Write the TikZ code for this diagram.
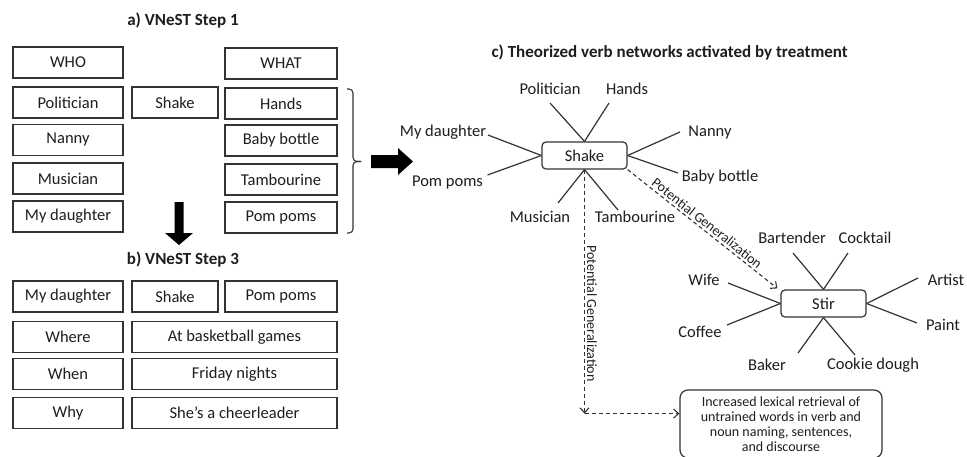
\documentclass[tikz,border=0pt]{standalone}
\usepackage{fontspec}
\setmainfont{Carlito}
\usetikzlibrary{calc,arrows.meta}
\definecolor{bd}{HTML}{333333}
\definecolor{txt}{HTML}{1E1E1E}
\begin{document}
\begin{tikzpicture}[x=1pt,y=-1pt,
  every node/.style={font=\fontsize{16.5}{19}\selectfont, text=txt},
  cell/.style={draw=bd, line width=1.2pt, minimum height=31pt, inner sep=0pt},
  hub/.style={draw=bd, line width=1.2pt, rounded corners=4pt, minimum width=85pt, minimum height=27pt, inner sep=0pt},
  lbl/.style={inner sep=1pt},
  spoke/.style={draw=bd, line width=1.2pt},
  gen/.style={draw=bd, line width=1.1pt, dash pattern=on 4pt off 3pt, -{Straight Barb[length=5pt,width=9pt]}},
  glabel/.style={font=\fontsize{14}{16}\selectfont, inner sep=2pt},
  ttl/.style={font=\bfseries\fontsize{17}{19}\selectfont}
]
\fill[white] (0,0) rectangle (967,456);
\useasboundingbox (0,0) rectangle (967,456);

% ---- a) Step 1
\node[ttl] (ta) at (183,21) {a) VNeST Step 1};
\node[cell, minimum width=110pt] (who) at (68,62.5) {WHO};
\node[cell, minimum width=112pt] (what) at (281,63.5) {WHAT};
\node[cell, minimum width=110pt] (a1) at (68,102.5) {Politician};
\node[cell, minimum width=110pt] (a2) at (68,140) {Nanny};
\node[cell, minimum width=110pt] (a3) at (68,178.5) {Musician};
\node[cell, minimum width=110pt] (a4) at (68,216.5) {My daughter};
\node[cell, minimum width=86pt] (av) at (175,102.5) {Shake};
\node[cell, minimum width=112pt] (b1) at (281,103.5) {Hands};
\node[cell, minimum width=112pt] (b2) at (281,140.5) {Baby bottle};
\node[cell, minimum width=112pt] (b3) at (281,179.5) {Tambourine};
\node[cell, minimum width=112pt] (b4) at (281,217.5) {Pom poms};

% brace
\draw[bd, line width=1.1pt, rounded corners=4pt] (347,89) -- (353,89) -- (353,161.5) -- (361,161.5);
\draw[bd, line width=1.1pt, rounded corners=4pt] (347,233) -- (353,233) -- (353,161.5) -- (361,161.5);

% block arrows
\fill[black] (371,155) -- (398,155) -- (398,148) -- (413,161.5) -- (398,175) -- (398,168) -- (371,168) -- cycle;
\fill[black] (174.5,202) -- (183.5,202) -- (183.5,233) -- (193,233) -- (179,245) -- (165,233) -- (174.5,233) -- cycle;

% ---- b) Step 3
\node[ttl] (tb) at (183,260) {b) VNeST Step 3};
\node[cell, minimum width=110pt] (c1) at (68,296.5) {My daughter};
\node[cell, minimum width=86pt] (c2) at (175,296.5) {Shake};
\node[cell, minimum width=112pt] (c3) at (281,296.5) {Pom poms};
\node[cell, minimum width=110pt] (d1) at (68,337) {Where};
\node[cell, minimum width=205pt] (d2) at (234.5,337) {At basketball games};
\node[cell, minimum width=110pt] (e1) at (68,374) {When};
\node[cell, minimum width=205pt] (e2) at (234.5,374) {Friday nights};
\node[cell, minimum width=110pt] (f1) at (68,413) {Why};
\node[cell, minimum width=205pt] (f2) at (234.5,413) {She’s a cheerleader};

% ---- c) networks
\node[ttl, anchor=west] (tc) at (488,53) {c) Theorized verb networks activated by treatment};

\node[hub] (shake) at (584.5,155.5) {Shake};
\node[lbl] (pol) at (550,89) {Politician};
\node[lbl] (hands) at (627,89) {Hands};
\node[lbl] (myd) at (443,132) {My daughter};
\node[lbl] (pom) at (447.5,183) {Pom poms};
\node[lbl] (nanny) at (710,133) {Nanny};
\node[lbl] (baby) at (720,177) {Baby bottle};
\node[lbl] (mus) at (540,217) {Musician};
\node[lbl] (tamb) at (635,217) {Tambourine};

\draw[spoke] ($(pol)+(0,14)$) -- (shake.north);
\draw[spoke] ($(hands)+(-18,14)$) -- (shake.north);
\draw[spoke] ($(myd)+(45,3)$) -- (shake.west);
\draw[spoke] ($(pom)+(40,-8)$) -- (shake.west);
\draw[spoke] ($(nanny)+(-30,-1)$) -- (shake.east);
\draw[spoke] ($(baby)+(-42,-4)$) -- (shake.east);
\draw[spoke] ($(mus)+(18,-14)$) -- (shake.south);
\draw[spoke] ($(tamb)+(-17,-7)$) -- (shake.south);

\node[hub] (stir) at (823.5,303.5) {Stir};
\node[lbl] (bart) at (792,238) {Bartender};
\node[lbl] (cock) at (865,238) {Cocktail};
\node[lbl] (wife) at (704,280) {Wife};
\node[lbl] (coffee) at (700,332) {Coffee};
\node[lbl] (artist) at (946,280) {Artist};
\node[lbl] (paint) at (943,325) {Paint};
\node[lbl] (baker) at (767,365) {Baker};
\node[lbl] (cookie) at (873,365) {Cookie dough};

\draw[spoke] ($(bart)+(1,15)$) -- (stir.north);
\draw[spoke] ($(cock)+(-17,15)$) -- (stir.north);
\draw[spoke] ($(wife)+(24,3)$) -- (stir.west);
\draw[spoke] ($(coffee)+(27,-7)$) -- (stir.west);
\draw[spoke] ($(artist)+(-28,-2)$) -- (stir.east);
\draw[spoke] ($(paint)+(-26,-2)$) -- (stir.east);
\draw[spoke] ($(baker)+(31,-12)$) -- (stir.south);
\draw[spoke] ($(cookie)+(-18,-10)$) -- (stir.south);

\node[draw=bd, line width=1.2pt, rounded corners=8pt, minimum width=202pt, minimum height=68pt,
  align=center, font=\fontsize{14}{15}\selectfont, inner sep=0pt] (res) at (781,424)
  {Increased lexical retrieval of\\untrained words in verb and\\noun naming, sentences,\\and discourse};

\coordinate (corner) at ($(shake.south)+(0,244)$);
\draw[gen] (shake.south) -- node[glabel, rotate=-90, anchor=south, pos=0.59] {Potential Generalization} (corner);
\draw[gen] (corner) -- (res.west |- corner);
\draw[gen] (shake.south east) -- node[glabel, sloped, above, midway] {Potential Generalization} ($(stir.north west)+(-3,-1)$);
\end{tikzpicture}
\end{document}
